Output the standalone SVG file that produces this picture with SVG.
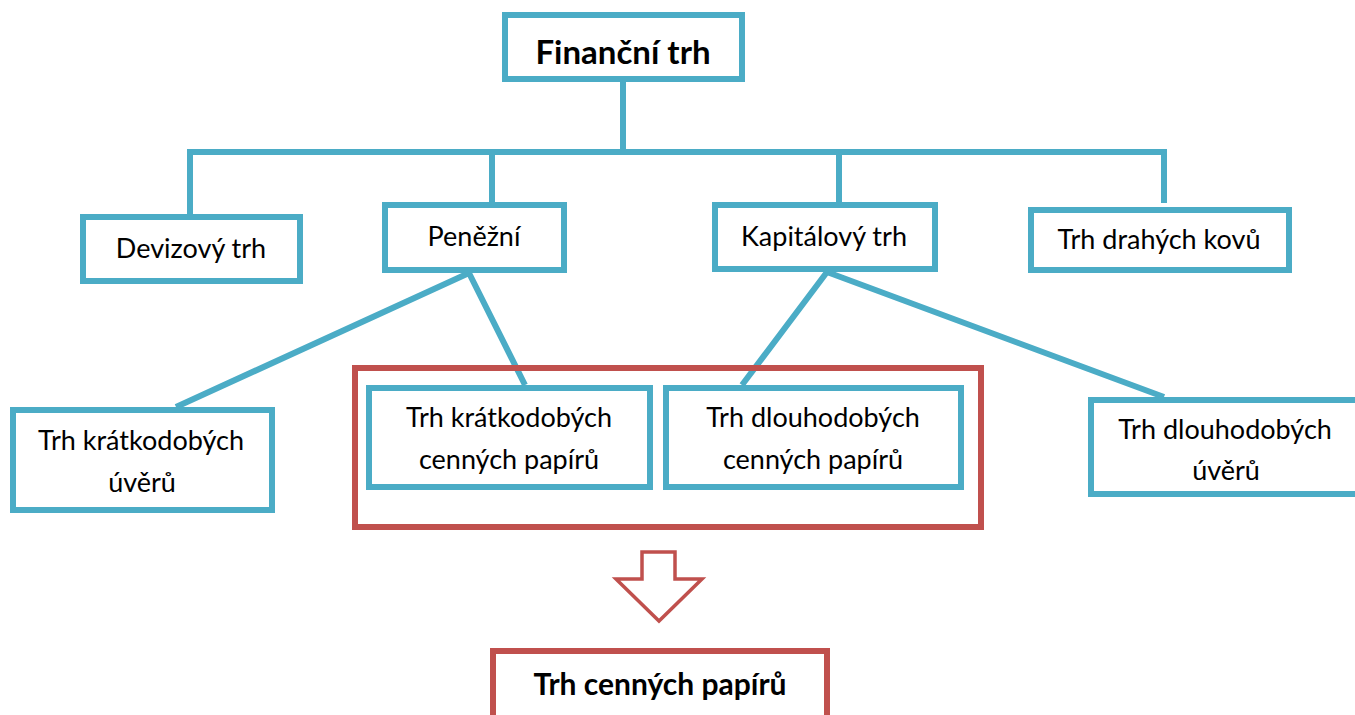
<svg xmlns="http://www.w3.org/2000/svg" width="1355" height="715" viewBox="0 0 1355 715">
<style>
.b{fill:#fff;stroke:#4BACC6;stroke-width:6}
.r{fill:none;stroke:#C0504D;stroke-width:6}
.c{stroke:#4BACC6;stroke-width:6;fill:none}
text{font-family:Lato,"Open Sans",sans-serif;fill:#000;text-anchor:middle}
.t{font-size:27px}
.h{font-size:30px;font-weight:bold}
.h1{font-size:33px}
</style>
<rect width="1355" height="715" fill="#fff"/>
<g id="connectors">
<path class="c" d="M623,82V152M187,152H1167M190,152V214M492,152V202M839,152V202M1164,152V203"/>
<path class="c" d="M469,273L176,407M469,273L525,385M827,272L742,385M827,272L1164,397"/>
</g>
<g id="cp-group"><rect class="r" x="355" y="368" width="626" height="159"/></g>
<g id="financni"><rect class="b" x="505" y="15" width="237" height="64"/><text class="h h1" x="623" y="64">Finanční trh</text></g>
<g id="devizovy"><rect class="b" x="83" y="217" width="217" height="64"/><text class="t" x="191" y="258">Devizový trh</text></g>
<g id="penezni"><rect class="b" x="385" y="205" width="179" height="65"/><text class="t" x="474" y="246">Peněžní</text></g>
<g id="kapitalovy"><rect class="b" x="715" y="205" width="220" height="64"/><text class="t" x="824" y="246">Kapitálový trh</text></g>
<g id="drahe-kovy"><rect class="b" x="1031" y="210" width="258" height="60"/><text class="t" x="1159" y="249">Trh drahých kovů</text></g>
<g id="kratke-uvery"><rect class="b" x="13" y="410" width="259" height="100"/><text class="t" x="141" y="450">Trh krátkodobých</text><text class="t" x="142" y="492">úvěrů</text></g>
<g id="kratke-cp"><rect class="b" x="369" y="388" width="281" height="99"/><text class="t" x="509" y="427">Trh krátkodobých</text><text class="t" x="509" y="469">cenných papírů</text></g>
<g id="dlouhe-cp"><rect class="b" x="666" y="388" width="295" height="99"/><text class="t" x="813" y="427">Trh dlouhodobých</text><text class="t" x="813" y="469">cenných papírů</text></g>
<g id="dlouhe-uvery"><rect class="b" x="1091" y="400" width="280" height="94"/><text class="t" x="1225" y="439">Trh dlouhodobých</text><text class="t" x="1226" y="480">úvěrů</text></g>
<g id="arrow"><polygon points="642,552 675,552 675,579 702,579 659,621 616,579 642,579" fill="#fff" stroke="#C0504D" stroke-width="3.5"/></g>
<g id="trh-cp"><rect class="r" x="493" y="651" width="334" height="100" style="fill:#fff"/><text class="h" x="660" y="695">Trh cenných papírů</text></g>
</svg>
